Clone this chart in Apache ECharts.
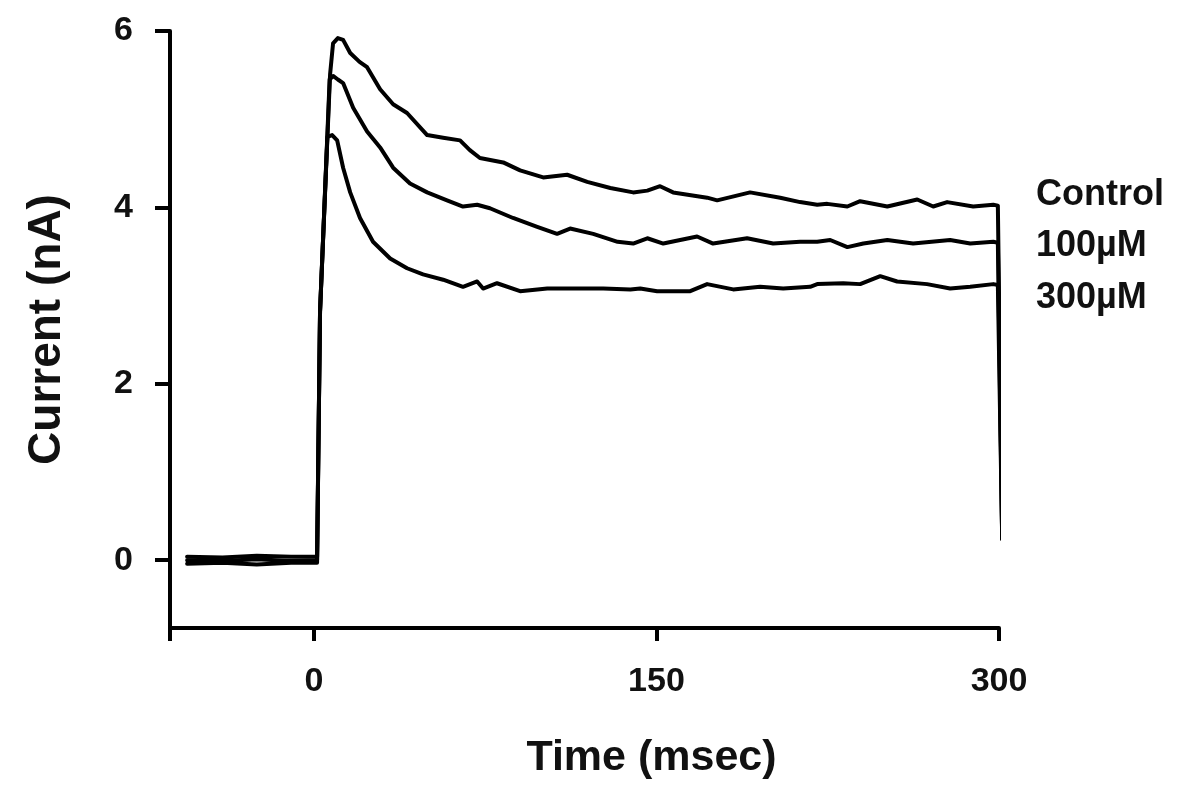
<!DOCTYPE html>
<html>
<head>
<meta charset="utf-8">
<script src="https://cdn.jsdelivr.net/npm/echarts@6/dist/echarts.min.js"></script>
<style>
html,body{margin:0;padding:0;background:#fff;overflow:hidden;}
#chart{width:1185px;height:785px;}
</style>
</head>
<body>
<div id="chart"></div>
<script>
// Time (msec), Current (nA)
var seriesNames = ['Control', '100\u00b5M', '300\u00b5M'];
var control = [[-55.5,0.04],[-40,0.03],[-25,0.05],[-10,0.04],[1.4,0.04],[2.7,2.82],[7.1,5.51],[8.4,5.86],[10.5,5.92],[12.8,5.90],[15.9,5.75],[20,5.65],[23.3,5.59],[29.0,5.34],[34.7,5.17],[40.8,5.07],[49.6,4.82],[56.6,4.79],[64.0,4.76],[68.3,4.65],[72.7,4.56],[82.9,4.51],[90.3,4.42],[100.4,4.34],[110.9,4.37],[119.7,4.29],[129.8,4.22],[139.8,4.17],[146.0,4.19],[151.6,4.24],[157.3,4.17],[172.2,4.11],[176.6,4.08],[191.0,4.17],[204.2,4.11],[212.9,4.06],[220.4,4.03],[224.8,4.04],[233.6,4.01],[239.2,4.07],[251.1,4.01],[264.2,4.09],[271.2,4.01],[277.3,4.06],[288.7,4.01],[297.5,4.03],[299.5,4.02],[301.4,0.24]];
var um100 = [[-55.5,0.0],[-40,-0.01],[-25,0.01],[-10,-0.01],[1.4,0.0],[2.7,2.82],[6.9,5.45],[8.4,5.49],[10.5,5.45],[12.8,5.41],[17.2,5.13],[23.3,4.86],[29.0,4.68],[34.7,4.45],[42.1,4.27],[49.6,4.17],[58.3,4.08],[65.3,4.01],[71.5,4.03],[77.1,3.99],[87.2,3.88],[97.8,3.78],[106.5,3.70],[112.2,3.76],[122.3,3.70],[133.0,3.61],[139.8,3.59],[146.0,3.65],[153.0,3.59],[167.8,3.67],[174.8,3.59],[189.7,3.65],[201.1,3.59],[212.9,3.61],[220.4,3.61],[226.1,3.63],[233.6,3.55],[240.6,3.59],[251.1,3.63],[262.4,3.59],[278.6,3.63],[287.4,3.59],[297.5,3.61],[299.5,3.60],[301.4,0.24]];
var um300 = [[-55.5,-0.04],[-40,-0.03],[-25,-0.05],[-10,-0.03],[1.4,-0.03],[2.7,2.82],[5.9,4.80],[8.0,4.82],[10.2,4.76],[12.8,4.45],[15.9,4.17],[20.2,3.88],[25.9,3.61],[33.4,3.42],[40.8,3.31],[47.8,3.24],[56.6,3.18],[65.3,3.10],[71.5,3.16],[74.1,3.08],[80.2,3.14],[90.3,3.05],[102.2,3.08],[112.2,3.08],[126.7,3.08],[138.6,3.07],[142.9,3.08],[150.3,3.05],[164.8,3.05],[172.2,3.13],[183.6,3.07],[195.4,3.10],[205.5,3.08],[217.3,3.10],[220.4,3.13],[231.8,3.14],[239.2,3.13],[248.0,3.22],[255.4,3.16],[268.5,3.13],[278.6,3.08],[287.4,3.10],[297.5,3.13],[299.5,3.12],[301.4,0.24]];
var xTickValues = [-63, 0, 150, 300];
var xLabelValues = [0, 150, 300];
var yTickValues = [0, 2, 4, 6];
var xTitle = 'Time (msec)';
var yTitle = 'Current (nA)';

var FONT = '"Liberation Sans", Arial, Helvetica, sans-serif';
var chart = echarts.init(document.getElementById('chart'), null, {renderer: 'canvas'});
var lineStyle = {color: '#000', width: 4, join: 'round', cap: 'round'};
function mk(name, data) {
  return {name: name, type: 'line', data: data, showSymbol: false, symbol: 'none',
    lineStyle: lineStyle, clip: false, animation: false, silent: true};
}
chart.setOption({
  animation: false,
  backgroundColor: '#fff',
  grid: {left: 170, right: 186, top: 31, bottom: 157, containLabel: false, outerBoundsMode: 'none'},
  xAxis: {
    type: 'value', min: -63, max: 300,
    splitLine: {show: false},
    axisLine: {onZero: false, lineStyle: {color: '#000', width: 4}},
    axisTick: {customValues: xTickValues, length: 13, lineStyle: {color: '#000', width: 4}},
    axisLabel: {customValues: xLabelValues, fontSize: 34, fontWeight: 'bold', color: '#111', fontFamily: FONT, margin: 37},
    name: xTitle, nameLocation: 'middle', nameGap: 109,
    nameTextStyle: {fontSize: 43, fontWeight: 'bold', color: '#111', fontFamily: FONT, padding: [0, 0, 0, 134]}
  },
  yAxis: {
    type: 'value', min: -0.769, max: 6,
    splitLine: {show: false},
    axisLine: {onZero: false, lineStyle: {color: '#000', width: 4}},
    axisTick: {customValues: yTickValues, length: 15, lineStyle: {color: '#000', width: 4}},
    axisLabel: {customValues: yTickValues, fontSize: 34, fontWeight: 'bold', color: '#111', fontFamily: FONT, margin: 37},
    name: yTitle, nameLocation: 'middle', nameGap: 100, nameRotate: 90,
    nameTextStyle: {fontSize: 46, fontWeight: 'bold', color: '#111', fontFamily: FONT}
  },
  graphic: [
    {type: 'text', left: 1036, top: 177, style: {text: seriesNames[0], font: 'bold 36px ' + FONT, fill: '#111'}},
    {type: 'text', left: 1036, top: 228, style: {text: seriesNames[1], font: 'bold 36px ' + FONT, fill: '#111'}},
    {type: 'text', left: 1036, top: 280, style: {text: seriesNames[2], font: 'bold 36px ' + FONT, fill: '#111'}}
  ],
  series: [mk(seriesNames[0], control), mk(seriesNames[1], um100), mk(seriesNames[2], um300)]
});
</script>
</body>
</html>
